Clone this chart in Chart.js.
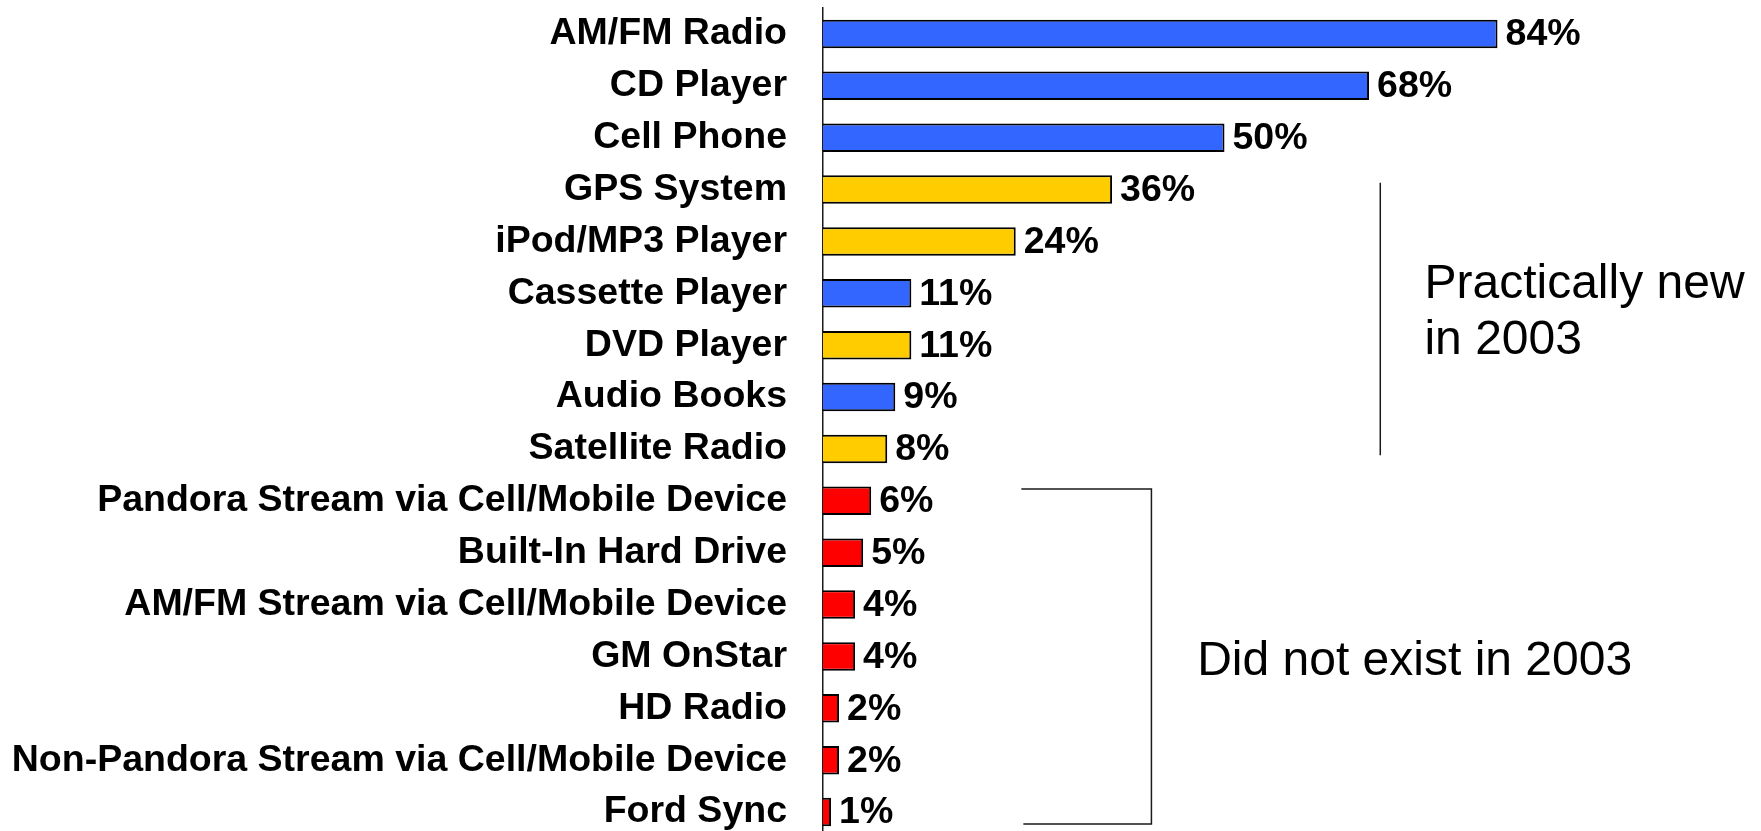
<!DOCTYPE html>
<html>
<head>
<meta charset="utf-8">
<title>In-car audio usage</title>
<script src="https://cdn.jsdelivr.net/npm/chart.js@4/dist/chart.umd.min.js"></script>
<style>
    html, body { margin: 0; padding: 0; background: #ffffff; overflow: hidden; }
    #wrap { position: relative; width: 1761px; height: 838px; }
</style>
</head>
<body>
<div id="wrap"><canvas id="usage-chart"></canvas></div>
<script>
// Chart data
const categories = [
    'AM/FM Radio',
    'CD Player',
    'Cell Phone',
    'GPS System',
    'iPod/MP3 Player',
    'Cassette Player',
    'DVD Player',
    'Audio Books',
    'Satellite Radio',
    'Pandora Stream via Cell/Mobile Device',
    'Built-In Hard Drive',
    'AM/FM Stream via Cell/Mobile Device',
    'GM OnStar',
    'HD Radio',
    'Non-Pandora Stream via Cell/Mobile Device',
    'Ford Sync'
];
const usageValues = [84, 68, 50, 36, 24, 11, 11, 9, 8, 6, 5, 4, 4, 2, 2, 1];
// which era each source belongs to
const sourceGroups = [
    'established', 'established', 'established', 'new', 'new',
    'established', 'new', 'established', 'new',
    'absent', 'absent', 'absent', 'absent', 'absent', 'absent', 'absent'
];
const xTicks = [0, 100];

const groupColors = {
    established: '#3366FF',
    new: '#FFCC00',
    absent: '#FF0000'
};

const fontFamily = '"Liberation Sans", Arial, sans-serif';
const labelFont = 'bold 37.5px ' + fontFamily;
const noteFont = '48px ' + fontFamily;

// Value labels at the end of each bar
const valueLabels = {
    id: 'valueLabels',
    afterDatasetsDraw(chart) {
        const ctx = chart.ctx;
        const meta = chart.getDatasetMeta(0);
        ctx.save();
        ctx.font = labelFont;
        ctx.fillStyle = '#000000';
        ctx.textAlign = 'left';
        ctx.textBaseline = 'middle';
        meta.data.forEach((bar, i) => {
            ctx.fillText(usageValues[i] + '%', bar.x + 8, bar.y + 1);
        });
        ctx.restore();
    }
};

// Brackets and notes on the right
const notes = {
    id: 'notes',
    afterDraw(chart) {
        const ctx = chart.ctx;
        const x = chart.scales.x;
        const y = chart.scales.y;
        const band = y.getPixelForValue(1) - y.getPixelForValue(0);

        ctx.save();
        ctx.strokeStyle = '#1a1a1a';
        ctx.lineWidth = 1.5;

        // "Practically new" line: GPS System .. Satellite Radio
        const lineX = x.getPixelForValue(69.4);
        const top1 = y.getPixelForValue(3) - band * 0.13;
        const bot1 = y.getPixelForValue(8) + band * 0.12;
        ctx.beginPath();
        ctx.moveTo(lineX, top1);
        ctx.lineTo(lineX, bot1);
        ctx.stroke();

        // "Did not exist" bracket: Pandora .. Ford Sync
        const bLeft = x.getPixelForValue(24.7);
        const bRight = x.getPixelForValue(40.9);
        const top2 = y.getPixelForValue(9) - band * 0.23;
        const bot2 = y.getPixelForValue(15) + band * 0.23;
        ctx.beginPath();
        ctx.moveTo(bLeft, top2);
        ctx.lineTo(bRight, top2);
        ctx.lineTo(bRight, bot2);
        ctx.lineTo(bLeft + 2, bot2);
        ctx.stroke();

        ctx.font = noteFont;
        ctx.fillStyle = '#000000';
        ctx.textAlign = 'left';
        ctx.textBaseline = 'alphabetic';
        const mid1 = (top1 + bot1) / 2;
        const textX1 = x.getPixelForValue(74.9);
        ctx.fillText('Practically new', textX1, mid1 - 21);
        ctx.fillText('in 2003', textX1, mid1 + 35);

        const mid2 = (top2 + bot2) / 2;
        ctx.fillText('Did not exist in 2003', x.getPixelForValue(46.6), mid2 + 19);
        ctx.restore();
    }
};

function createUsageChart() {
    const ctx = document.getElementById('usage-chart').getContext('2d');

    new Chart(ctx, {
        type: 'bar',
        data: {
            labels: categories,
            datasets: [{
                label: 'Usage',
                data: usageValues,
                backgroundColor: sourceGroups.map(g => groupColors[g]),
                borderColor: '#000000',
                borderWidth: 2,
                barPercentage: 0.55,
                categoryPercentage: 1.0
            }]
        },
        options: {
            indexAxis: 'y',
            responsive: true,
            maintainAspectRatio: false,
            animation: false,
            layout: {
                padding: { top: 8, right: 135, bottom: 0, left: 0 }
            },
            scales: {
                x: {
                    display: false,
                    min: xTicks[0],
                    max: xTicks[xTicks.length - 1]
                },
                y: {
                    afterFit: function(scale) {
                        // fixed label column, no extra room above/below
                        scale.width = 823;
                        scale.paddingTop = 0;
                        scale.paddingBottom = 0;
                    },
                    grid: { display: false, drawTicks: false },
                    border: { display: true, color: '#1a1a1a', width: 1.5 },
                    ticks: {
                        color: '#000000',
                        padding: 36,
                        autoSkip: false,
                        font: {
                            family: fontFamily,
                            weight: 'bold',
                            size: 37.5
                        }
                    }
                }
            },
            plugins: {
                legend: { display: false },
                tooltip: { enabled: false }
            }
        },
        plugins: [valueLabels, notes]
    });
}

createUsageChart();
</script>
</body>
</html>
